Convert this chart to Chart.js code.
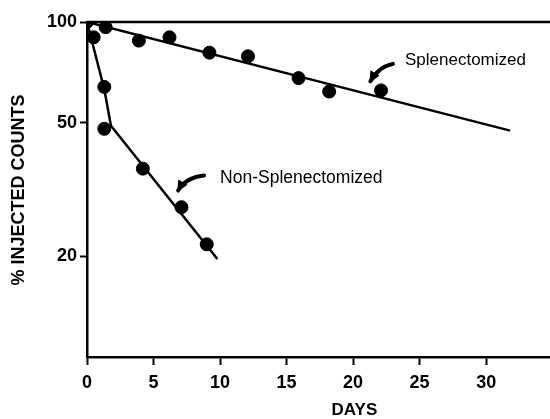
<!DOCTYPE html>
<html>
<head>
<meta charset="utf-8">
<script src="https://cdn.jsdelivr.net/npm/chart.js@4.4.0/dist/chart.umd.min.js"></script>
<style>
    html, body { margin: 0; padding: 0; background: #fff; }
    #wrap { width: 550px; height: 419px; }
</style>
</head>
<body>
<div id="wrap"><canvas id="decayChart" width="550" height="419"></canvas></div>
<script>
// observed points (days, % injected counts)
const splenDays = [0, 1.4, 3.9, 6.2, 9.2, 12.1, 15.9, 18.2, 22.1];
const splenCounts = [100, 96.5, 88, 90, 81, 79, 68, 62, 62.5];
const nonSplenDays = [0.5, 1.3, 1.3, 4.2, 7.1, 9.0];
const nonSplenCounts = [90, 64, 48, 36.5, 28, 21.7];

// fitted lines
const splenFitDays = [0, 31.8];
const splenFitCounts = [100, 47.4];
const nonSplenFitDays = [0, 1.3, 1.8, 9.8];
const nonSplenFitCounts = [100, 63, 49, 19.6];

const xTicks = [0, 5, 10, 15, 20, 25, 30];
const yTicks = [20, 50, 100];

const toXY = (xs, ys) => xs.map((x, i) => ({ x: x, y: ys[i] }));

const FONT = "'Liberation Sans', Arial, sans-serif";

const extrasPlugin = {
    id: 'extras',
    afterDraw(chart) {
        const ctx = chart.ctx;
        const xs = chart.scales.x;
        const ys = chart.scales.y;
        const area = chart.chartArea;
        ctx.save();
        // top border line
        ctx.strokeStyle = '#000';
        ctx.lineWidth = 2.5;
        ctx.beginPath();
        ctx.moveTo(area.left, area.top);
        ctx.lineTo(area.right, area.top);
        ctx.stroke();

        // labels
        ctx.fillStyle = '#000';
        ctx.textBaseline = 'middle';
        ctx.textAlign = 'left';
        ctx.font = '17px ' + FONT;
        ctx.fillText('Splenectomized', xs.getPixelForValue(23.9), ys.getPixelForValue(77));
        ctx.font = '17.5px ' + FONT;
        ctx.fillText('Non-Splenectomized', xs.getPixelForValue(10.0), ys.getPixelForValue(34.3));

        // curved arrows
        const arrow = (x0, y0, x1, y1, cx, cy) => {
            const p0 = [xs.getPixelForValue(x0), ys.getPixelForValue(y0)];
            const p1 = [xs.getPixelForValue(x1), ys.getPixelForValue(y1)];
            const c = [xs.getPixelForValue(cx), ys.getPixelForValue(cy)];
            ctx.lineWidth = 4;
            ctx.lineCap = 'round';
            ctx.beginPath();
            ctx.moveTo(p0[0], p0[1]);
            ctx.quadraticCurveTo(c[0], c[1], p1[0], p1[1]);
            ctx.stroke();
            const ang = Math.atan2(p1[1] - c[1], p1[0] - c[0]);
            const len = 11;
            ctx.beginPath();
            ctx.moveTo(p1[0] + 2 * Math.cos(ang), p1[1] + 2 * Math.sin(ang));
            ctx.lineTo(p1[0] - len * Math.cos(ang - 0.5), p1[1] - len * Math.sin(ang - 0.5));
            ctx.lineTo(p1[0] - len * Math.cos(ang + 0.5), p1[1] - len * Math.sin(ang + 0.5));
            ctx.closePath();
            ctx.fill();
        };
        arrow(23.0, 75, 21.3, 66.5, 21.9, 73.5);
        arrow(8.8, 34.8, 6.85, 31.4, 7.4, 34.3);

        // axis titles
        ctx.font = 'bold 17px ' + FONT;
        ctx.textAlign = 'center';
        ctx.fillText('DAYS', xs.getPixelForValue(20.1), 410);
        ctx.translate(19, 190);
        ctx.rotate(-Math.PI / 2);
        ctx.font = 'bold 18px ' + FONT;
        ctx.fillText('% INJECTED COUNTS', 0, 0);
        ctx.restore();
    }
};

new Chart(document.getElementById('decayChart').getContext('2d'), {
    type: 'scatter',
    data: {
        datasets: [
            {
                label: 'Splenectomized',
                data: toXY(splenDays, splenCounts),
                backgroundColor: '#000',
                borderColor: '#000',
                pointRadius: 6.5,
                showLine: false
            },
            {
                label: 'Non-Splenectomized',
                data: toXY(nonSplenDays, nonSplenCounts),
                backgroundColor: '#000',
                borderColor: '#000',
                pointRadius: 6.5,
                showLine: false
            },
            {
                label: 'Splenectomized fit',
                data: toXY(splenFitDays, splenFitCounts),
                borderColor: '#000',
                borderWidth: 2.5,
                pointRadius: 0,
                showLine: true
            },
            {
                label: 'Non-Splenectomized fit',
                data: toXY(nonSplenFitDays, nonSplenFitCounts),
                borderColor: '#000',
                borderWidth: 2.5,
                pointRadius: 0,
                showLine: true
            }
        ]
    },
    options: {
        responsive: false,
        animation: false,
        layout: { autoPadding: false, padding: { top: 22, right: 0, left: 0, bottom: 0 } },
        plugins: { legend: { display: false }, tooltip: { enabled: false } },
        scales: {
            x: {
                type: 'linear',
                min: 0,
                max: 34.8,
                afterBuildTicks: (s) => { s.ticks = xTicks.map(v => ({ value: v })); },
                afterFit: (s) => { s.height = 62; s.paddingRight = 0; s.paddingLeft = 0; },
                grid: { drawOnChartArea: false, color: '#000', tickLength: 8, tickWidth: 2 },
                border: { color: '#000', width: 2.5 },
                ticks: { color: '#000', padding: 7, maxRotation: 0, font: { family: FONT, size: 18, weight: 'bold' } }
            },
            y: {
                type: 'logarithmic',
                min: 10,
                max: 100,
                afterBuildTicks: (s) => { s.ticks = yTicks.map(v => ({ value: v })); },
                afterFit: (s) => { s.width = 87; s.paddingTop = 0; s.paddingBottom = 0; },
                grid: { drawOnChartArea: false, color: '#000', tickLength: 7, tickWidth: 2 },
                border: { color: '#000', width: 2.5 },
                ticks: { color: '#000', padding: 3, font: { family: FONT, size: 18, weight: 'bold' }, callback: (v) => String(v) }
            }
        }
    },
    plugins: [extrasPlugin]
});
</script>
</body>
</html>
